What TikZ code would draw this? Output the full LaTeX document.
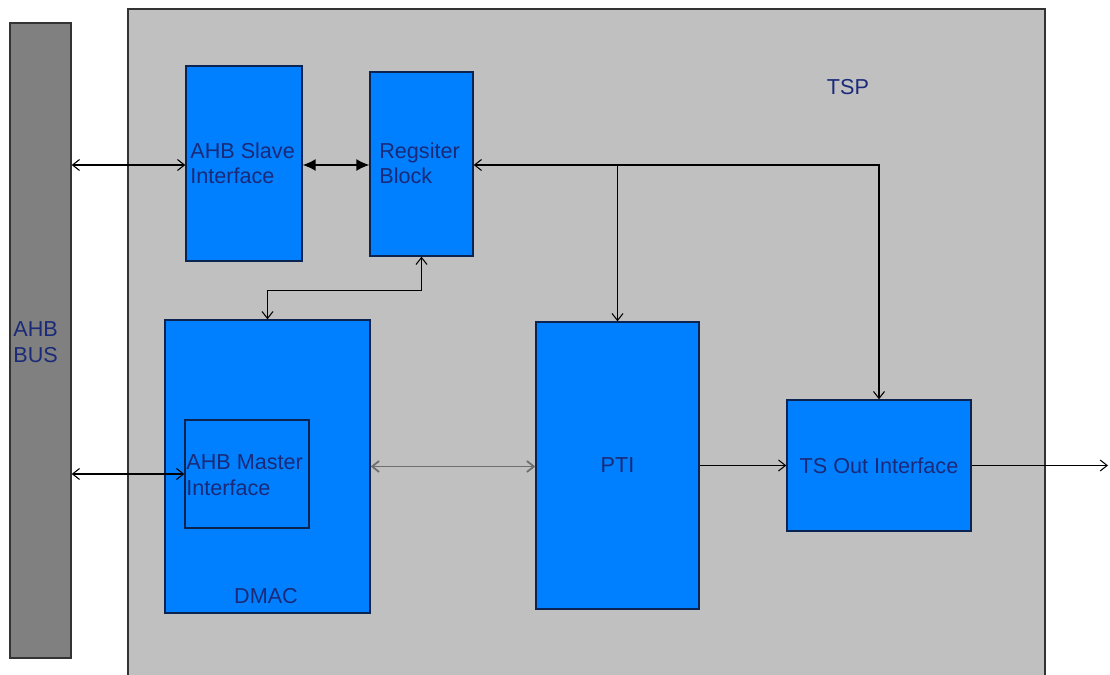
\documentclass[tikz,border=0pt]{standalone}
\usepackage{fontspec}
\setmainfont{Liberation Sans}
\usepackage{xcolor}
\usetikzlibrary{arrows.meta, positioning, calc}

\definecolor{tspgray}{HTML}{C0C0C0}
\definecolor{busgray}{HTML}{808080}
\definecolor{linkgray}{HTML}{6E6E6E}
\definecolor{blockblue}{HTML}{0080FF}
\definecolor{edgenavy}{HTML}{0B2350}
\definecolor{textnavy}{HTML}{1A2A78}

\tikzset{
  block/.style={rectangle, draw=edgenavy, line width=0.8pt, fill=blockblue, inner sep=0pt},
  lbl/.style={text=textnavy, font=\fontsize{12.3}{14.5}\selectfont, inner sep=0pt, align=left},
  link/.style={line width=0.6pt, {Straight Barb[length=1.4mm,width=2.2mm]}-{Straight Barb[length=1.4mm,width=2.2mm]}},
  feed/.style={line width=0.6pt, -{Straight Barb[length=1.4mm,width=2.2mm]}},
  heavy/.style={line width=0.8pt, {Latex[length=2.6mm,width=2.4mm]}-{Latex[length=2.6mm,width=2.4mm]}}
}

\begin{document}
\begin{tikzpicture}[x=0.02cm, y=-0.02cm]
        \useasboundingbox (0,0) rectangle (1110,675);

        % TSP container, runs off the bottom
        \fill[tspgray] (128,9) rectangle (1045,675);
        \draw[line width=0.8pt, draw=black!80] (128,675) -- (128,9) -- (1045,9) -- (1045,675);
        \node[lbl] (tsplbl) at (848,87) {TSP};

        % AHB bus
        \node[block, fill=busgray, draw=black!80, minimum width=1.22cm, minimum height=12.7cm] (bus) at (40.5,340.5) {};
        \node[lbl, anchor=west] (buslbl) at (13,342) {AHB\\BUS};

        % blocks
        \node[block, minimum width=2.32cm, minimum height=3.9cm] (slave) at (244,163.5) {};
        \node[lbl, anchor=west] (slavelbl) at (190,163.5) {AHB Slave\\Interface};
        \node[block, minimum width=2.06cm, minimum height=3.68cm] (reg) at (421.5,164) {};
        \node[lbl, anchor=west] (reglbl) at (379,163.5) {Regsiter\\Block};
        \node[block, minimum width=4.1cm, minimum height=5.86cm] (dmac) at (267.5,466.5) {};
        \node[lbl] (dmaclbl) at (266,596) {DMAC};
        \node[block, fill=none, minimum width=2.48cm, minimum height=2.16cm] (master) at (247,474) {};
        \node[lbl, anchor=west] (masterlbl) at (186,475) {AHB Master\\Interface};
        \node[block, minimum width=3.26cm, minimum height=5.74cm] (pti) at (617.5,465.5) {};
        \node[lbl] (ptilbl) at (pti) {PTI};
        \node[block, minimum width=3.68cm, minimum height=2.62cm] (tsout) at (879,465.5) {};
        \node[lbl] (tsoutlbl) at (tsout) {TS Out Interface};

        \coordinate (out) at (1108,465.5);

        % connections
        \draw[link] (bus.east |- 0,165) -- (slave.west |- 0,165);
        \draw[heavy] (slave.east |- 0,165) -- (reg.west |- 0,165);
        \draw[link] (reg.east |- 0,165) -| (tsout.north);
        \draw[feed] (reg.east -| pti.north) ++(0,1) -- (pti.north);
        \draw[link] (reg.south) -- ++(0,34) -| (dmac.north);
        \draw[link] (bus.east |- master.west) -- (master.west);
        \draw[link, draw=linkgray, line width=1pt] (dmac.east) -- (dmac.east -| pti.west);
        \draw[feed] (pti.east |- tsout.west) -- (tsout.west);
        \draw[feed] (tsout.east) -- (out);
\end{tikzpicture}
\end{document}
